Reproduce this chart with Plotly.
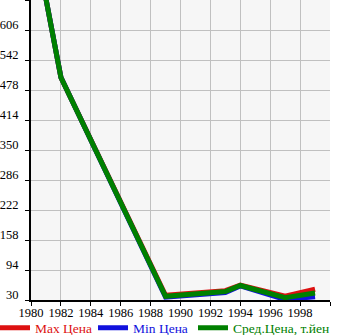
import plotly.graph_objects as go

years = [1980, 1982, 1989, 1993, 1994, 1997, 1999]
max_price = [840, 505, 40, 50, 62, 38, 53]
min_price = [840, 505, 36, 46, 60, 31, 37]
avg_price = [840, 505, 38, 48, 61, 35, 45]

x_ticks = [1980, 1982, 1984, 1986, 1988, 1990, 1992, 1994, 1996, 1998, 2000]
x_labels = ["1980", "1982", "1984", "1986", "1988", "1990", "1992", "1994", "1996", "1998", ""]
y_ticks = [30, 94, 158, 222, 286, 350, 414, 478, 542, 606, 670]
y_labels = ["30", "94", "158", "222", "286", "350", "414", "478", "542", "606", ""]

series_names = ["Max Цена", "Min Цена", "Сред.Цена, т.йен"]
colors = ["#dd1111", "#1111dd", "#008000"]
legend_ids = ["legend", "legend2", "legend3"]

FONT = "Liberation Serif"

fig = go.Figure()
for name, vals, col, lg in zip(series_names, [max_price, min_price, avg_price], colors, legend_ids):
    fig.add_trace(go.Scatter(
        x=years, y=vals, name=name, mode="lines",
        line=dict(color=col, width=5), legend=lg,
    ))

def leg(xpos, col):
    return dict(
        orientation="h", x=xpos, y=-0.093, xanchor="left", yanchor="middle",
        font=dict(family=FONT, size=13.5, color=col),
        itemwidth=30, bgcolor="rgba(0,0,0,0)", borderwidth=0,
    )

fig.update_layout(
    width=345, height=335,
    margin=dict(l=31, r=15, t=0, b=35, autoexpand=False),
    paper_bgcolor="white",
    plot_bgcolor="#f6f6f6",
    font=dict(family=FONT, size=12.5, color="black"),
    showlegend=True,
    legend=leg(-0.1204, colors[0]),
    legend2=leg(0.2074, colors[1]),
    legend3=leg(0.5418, colors[2]),
    xaxis=dict(
        range=[1980, 2000], tickmode="array", tickvals=x_ticks, ticktext=x_labels,
        showgrid=True, gridcolor="#c0c0c0", gridwidth=1,
        showline=True, linecolor="black", linewidth=2,
        ticks="outside", ticklen=4, tickcolor="black", zeroline=False,
        tickfont=dict(family=FONT, size=12.5, color="black"),
        ticklabelstandoff=-4,
    ),
    yaxis=dict(
        range=[30, 670], tickmode="array", tickvals=y_ticks, ticktext=y_labels,
        showgrid=True, gridcolor="#c0c0c0", gridwidth=1,
        showline=True, linecolor="black", linewidth=2,
        ticks="outside", ticklen=4, tickcolor="black", zeroline=False,
        tickfont=dict(family=FONT, size=12.5, color="black"),
        ticklabelshift=-5, ticklabelstandoff=4,
    ),
)

fig.write_html("out.html")
